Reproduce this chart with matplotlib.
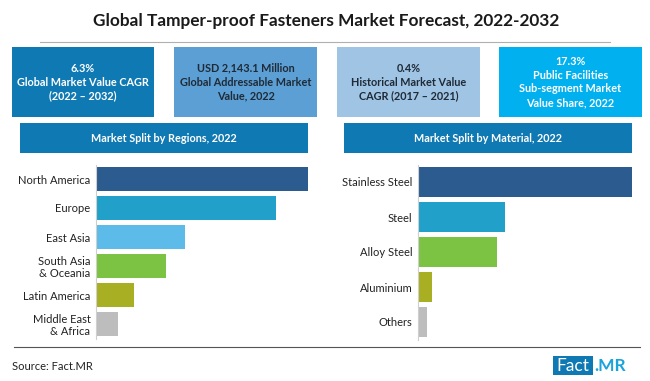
import matplotlib.pyplot as plt
from matplotlib.patches import Rectangle

# Data
regions = ['North America', 'Europe', 'East Asia', 'South Asia\n& Oceania',
           'Latin America', 'Middle East\n& Africa']
region_share = [35.0, 29.7, 14.7, 11.6, 6.3, 3.6]

materials = ['Stainless Steel', 'Steel', 'Alloy Steel', 'Aluminium', 'Others']
material_share = [53.0, 21.6, 19.6, 3.5, 2.3]

region_colors = ['#2b5b8f', '#21a1c9', '#5cbbe8', '#7cc243', '#a9af22', '#bdbdbd']
material_colors = ['#2b5b8f', '#21a1c9', '#7cc243', '#a9af22', '#bdbdbd']

kpi_texts = ['6.3%\nGlobal Market Value CAGR\n(2022 – 2032)',
             'USD 2,143.1 Million\nGlobal Addressable Market\nValue, 2022',
             '0.4%\nHistorical Market Value\nCAGR (2017 – 2021)',
             '17.3%\nPublic Facilities\nSub-segment Market\nValue Share, 2022']
kpi_colors = ['#0f79b3', '#5b9fd4', '#9fc4e4', '#00b0ef']
kpi_text_colors = ['white', '#1f2a36', '#1f2a36', 'white']

W, H = 650, 381
FONT = 'Lato'

fig = plt.figure(figsize=(W / 100, H / 100), dpi=100)
fig.patch.set_facecolor('white')


# helper: rectangle in pixel coordinates (top-left origin)
def px_rect(x0, y0, x1, y1, color):
    fig.patches.append(Rectangle((x0 / W, 1 - y1 / H), (x1 - x0) / W, (y1 - y0) / H,
                                 transform=fig.transFigure, facecolor=color,
                                 edgecolor='none', zorder=0))


def px_text(x, y, s, **kw):
    fig.text(x / W, 1 - y / H, s, family=FONT, **kw)


# title
px_text(326, 21, 'Global Tamper-proof Fasteners Market Forecast, 2022-2032',
        fontsize=12.4, fontweight='bold', color='#1a1a1a', ha='center', va='center')
fig.add_artist(plt.Line2D([40 / W, 610 / W], [1 - 42 / H, 1 - 42 / H],
                          color='#b0b0b0', lw=0.8, transform=fig.transFigure))

# KPI boxes
box_x = [(12, 154), (174, 317), (337, 480), (499, 642)]
for (x0, x1), txt, c, tc in zip(box_x, kpi_texts, kpi_colors, kpi_text_colors):
    px_rect(x0, 47, x1, 117, c)
    px_text((x0 + x1) / 2, 82, txt, fontsize=7.8, fontweight='bold', color=tc,
            ha='center', va='center', linespacing=1.3)

# section headers
px_rect(20, 123, 308, 153, '#0f79b3')
px_text(164, 138, 'Market Split by Regions, 2022', fontsize=7.8, fontweight='bold',
        color='white', ha='center', va='center')
px_rect(344, 123, 632, 153, '#0f79b3')
px_text(488, 138, 'Market Split by Material, 2022', fontsize=7.8, fontweight='bold',
        color='white', ha='center', va='center')


def bar_panel(x0, x1, y0, y1, labels, values, colors, height):
    ax = fig.add_axes([x0 / W, 1 - y1 / H, (x1 - x0) / W, (y1 - y0) / H])
    pos = list(range(len(labels)))
    ax.barh(pos, values, color=colors, height=height)
    ax.set_ylim(len(labels) - 0.5, -0.5)
    ax.set_xlim(0, max(values))
    ax.set_yticks(pos)
    ax.set_yticklabels(labels, family=FONT, fontsize=8, color='#222222',
                       linespacing=1.1)
    ax.tick_params(axis='y', length=0, pad=4)
    ax.set_xticks([])
    for s in ['top', 'right', 'bottom']:
        ax.spines[s].set_visible(False)
    ax.spines['left'].set_color('#cfcfcf')
    ax.spines['left'].set_linewidth(0.8)
    ax.patch.set_alpha(0)
    return ax


bar_panel(96, 308, 164.5, 338.5, regions, region_share, region_colors, 0.86)
bar_panel(418, 632, 164.5, 339.5, materials, material_share, material_colors, 0.83)

# bottom rule
fig.add_artist(plt.Line2D([14 / W, 640 / W], [1 - 347 / H, 1 - 347 / H],
                          color='#555555', lw=0.8, transform=fig.transFigure))

# source and logo
px_text(12, 366, 'Source: Fact.MR', fontsize=8, color='#222222', ha='left', va='center')
px_rect(553, 356, 593, 375, '#0f79b3')
px_text(573, 366, 'Fact', fontsize=12.5, color='white', ha='center', va='center')
px_text(594, 366, '.MR', fontsize=12.5, fontweight='bold', color='#1ba3dc',
        ha='left', va='center')

fig.savefig('out.png', dpi=100)
